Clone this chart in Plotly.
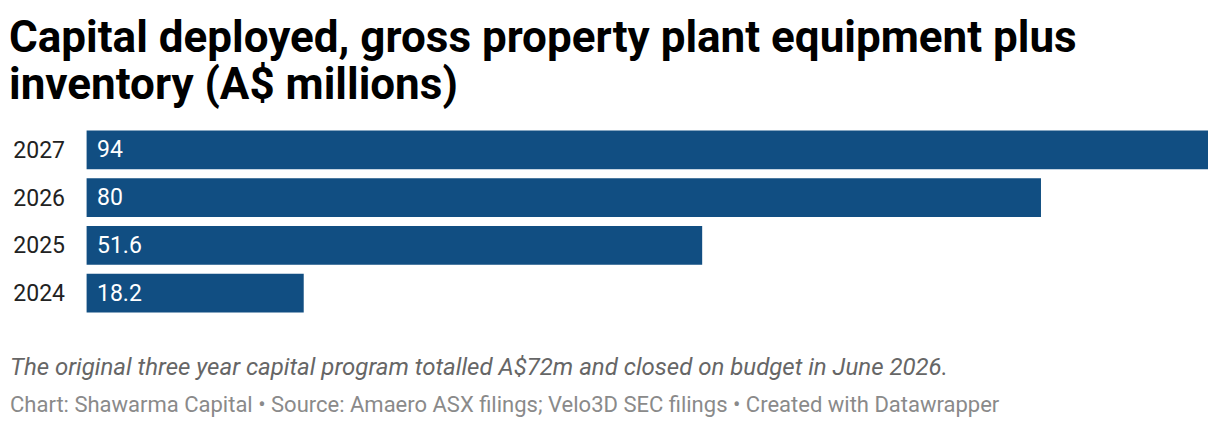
import plotly.graph_objects as go

# data
years = ["2024", "2025", "2026", "2027"]
capital = [18.2, 51.6, 80, 94]
value_labels = ["18.2", "51.6", "80", "94"]

title_lines = ["Capital deployed, gross property plant equipment plus",
               "inventory (A$ millions)"]
note_text = "The original three year capital program totalled A$72m and closed on budget in June 2026."
source_text = "Chart: Shawarma Capital • Source: Amaero ASX filings; Velo3D SEC filings • Created with Datawrapper"

bar_color = "#114e82"

fig = go.Figure(go.Bar(
    x=capital, y=years,
    orientation="h",
    marker=dict(color=bar_color, line=dict(width=0)),
    hoverinfo="skip",
))

annotations = []
# value labels inside bars, at the start
# (category axis: annotations take the category's serial number)
for i, lab in enumerate(value_labels):
    annotations.append(dict(
        x=0, y=i, xref="x", yref="y", text=lab, showarrow=False,
        xanchor="left", yanchor="middle", xshift=8,
        font=dict(family="Roboto", size=23, color="white"),
    ))

# title, one annotation per line to keep the tight leading
for ty, line in zip([1.465, 1.22], title_lines):
    annotations.append(dict(
        x=0, y=ty, xref="paper", yref="paper", xanchor="left", yanchor="middle",
        xshift=-79, text="<b>" + line + "</b>", showarrow=False,
        font=dict(family="Roboto", size=44, color="#000000"),
    ))

annotations.append(dict(
    x=0, y=-0.263, xref="paper", yref="paper", xanchor="left", yanchor="middle",
    xshift=-78, text="<i>" + note_text + "</i>", showarrow=False,
    font=dict(family="Roboto", size=24, color="#666666"),
))
annotations.append(dict(
    x=0, y=-0.456, xref="paper", yref="paper", xanchor="left", yanchor="middle",
    xshift=-78, text=source_text, showarrow=False,
    font=dict(family="Roboto", size=22, color="#8a8a8a"),
))

fig.update_layout(
    width=1212, height=420,
    paper_bgcolor="white", plot_bgcolor="white",
    margin=dict(l=78, r=12, t=117.5, b=110.5),
    bargap=0.19,
    showlegend=False,
    xaxis=dict(range=[-0.05, 94], showticklabels=False, showgrid=False,
               zeroline=False, showline=False, ticks="", fixedrange=True,
               automargin=False),
    yaxis=dict(
        type="category",
        categoryorder="array", categoryarray=years,
        range=[-0.5, 3.5], automargin=False,
        showgrid=False, zeroline=False, showline=False, ticks="",
        ticklabelstandoff=20,
        tickfont=dict(family="Roboto", size=23, color="#222222"),
    ),
    annotations=annotations,
)

fig.write_html("out.html")
